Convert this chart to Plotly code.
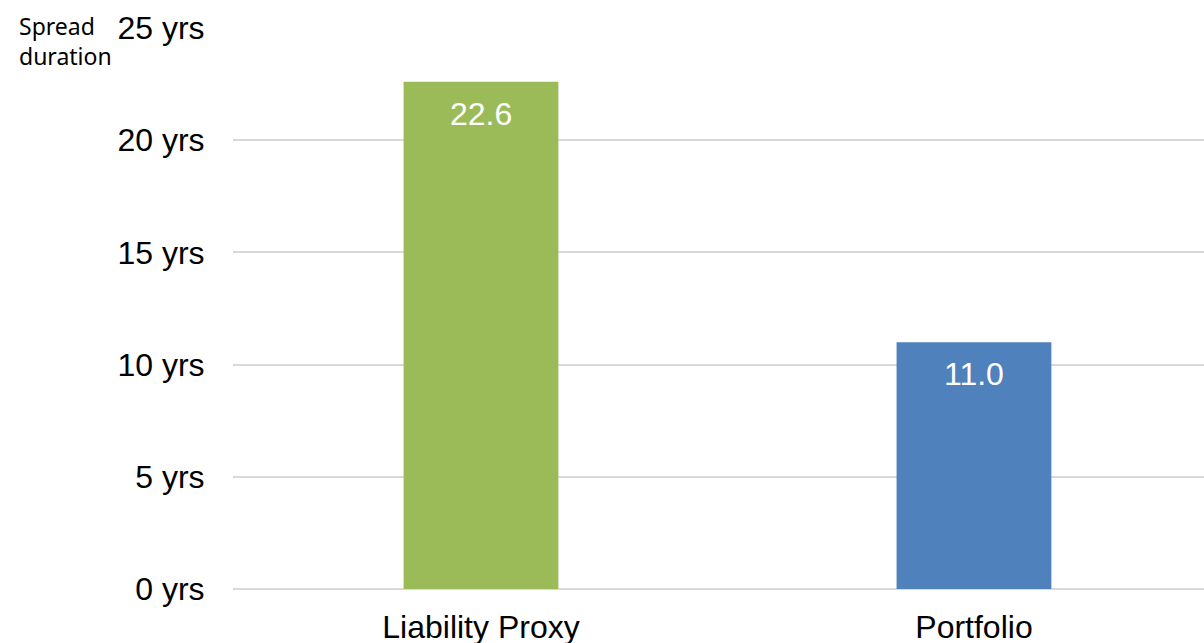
import plotly.graph_objects as go

categories = ["Liability Proxy", "Portfolio"]
values = [22.6, 11.0]
colors = ["#9BBB59", "#4F81BD"]
labels = [f"{v:.1f}" for v in values]

fig = go.Figure()
fig.add_trace(go.Bar(
    x=categories, y=values, marker=dict(color=colors, line=dict(width=0)),
    width=0.314, hoverinfo="skip",
))
for c, v, t in zip(categories, values, labels):
    fig.add_annotation(x=c, y=v, text=t, showarrow=False, yanchor="middle",
                       yshift=-32, font=dict(family="Arial, Liberation Sans", size=32, color="white"))

fig.add_annotation(xref="paper", yref="paper", x=-0.2224, y=0.977, xanchor="left", yanchor="middle",
                   text="Spread<br>duration", showarrow=False, align="left",
                   font=dict(family="Noto Sans, Open Sans", size=23, color="black"))

fig.update_layout(
    width=1204, height=643,
    margin=dict(l=233, r=0, t=28, b=54),
    plot_bgcolor="white", paper_bgcolor="white",
    showlegend=False,
    xaxis=dict(range=[-0.503, 1.4666], showgrid=False, showline=False, zeroline=False,
               automargin=False,
               ticks="outside", ticklen=10, tickcolor="rgba(0,0,0,0)",
               tickfont=dict(family="Arial, Liberation Sans", size=32, color="black")),
    yaxis=dict(range=[0, 25], dtick=5, ticksuffix=" yrs", showgrid=True, gridcolor="#D9D9D9",
               gridwidth=2, zeroline=True, zerolinecolor="#D9D9D9", zerolinewidth=2,
               automargin=False,
               showline=False, ticks="outside", ticklen=21, tickcolor="rgba(0,0,0,0)",
               tickfont=dict(family="Arial, Liberation Sans", size=32, color="black")),
)
fig.write_html("out.html")
